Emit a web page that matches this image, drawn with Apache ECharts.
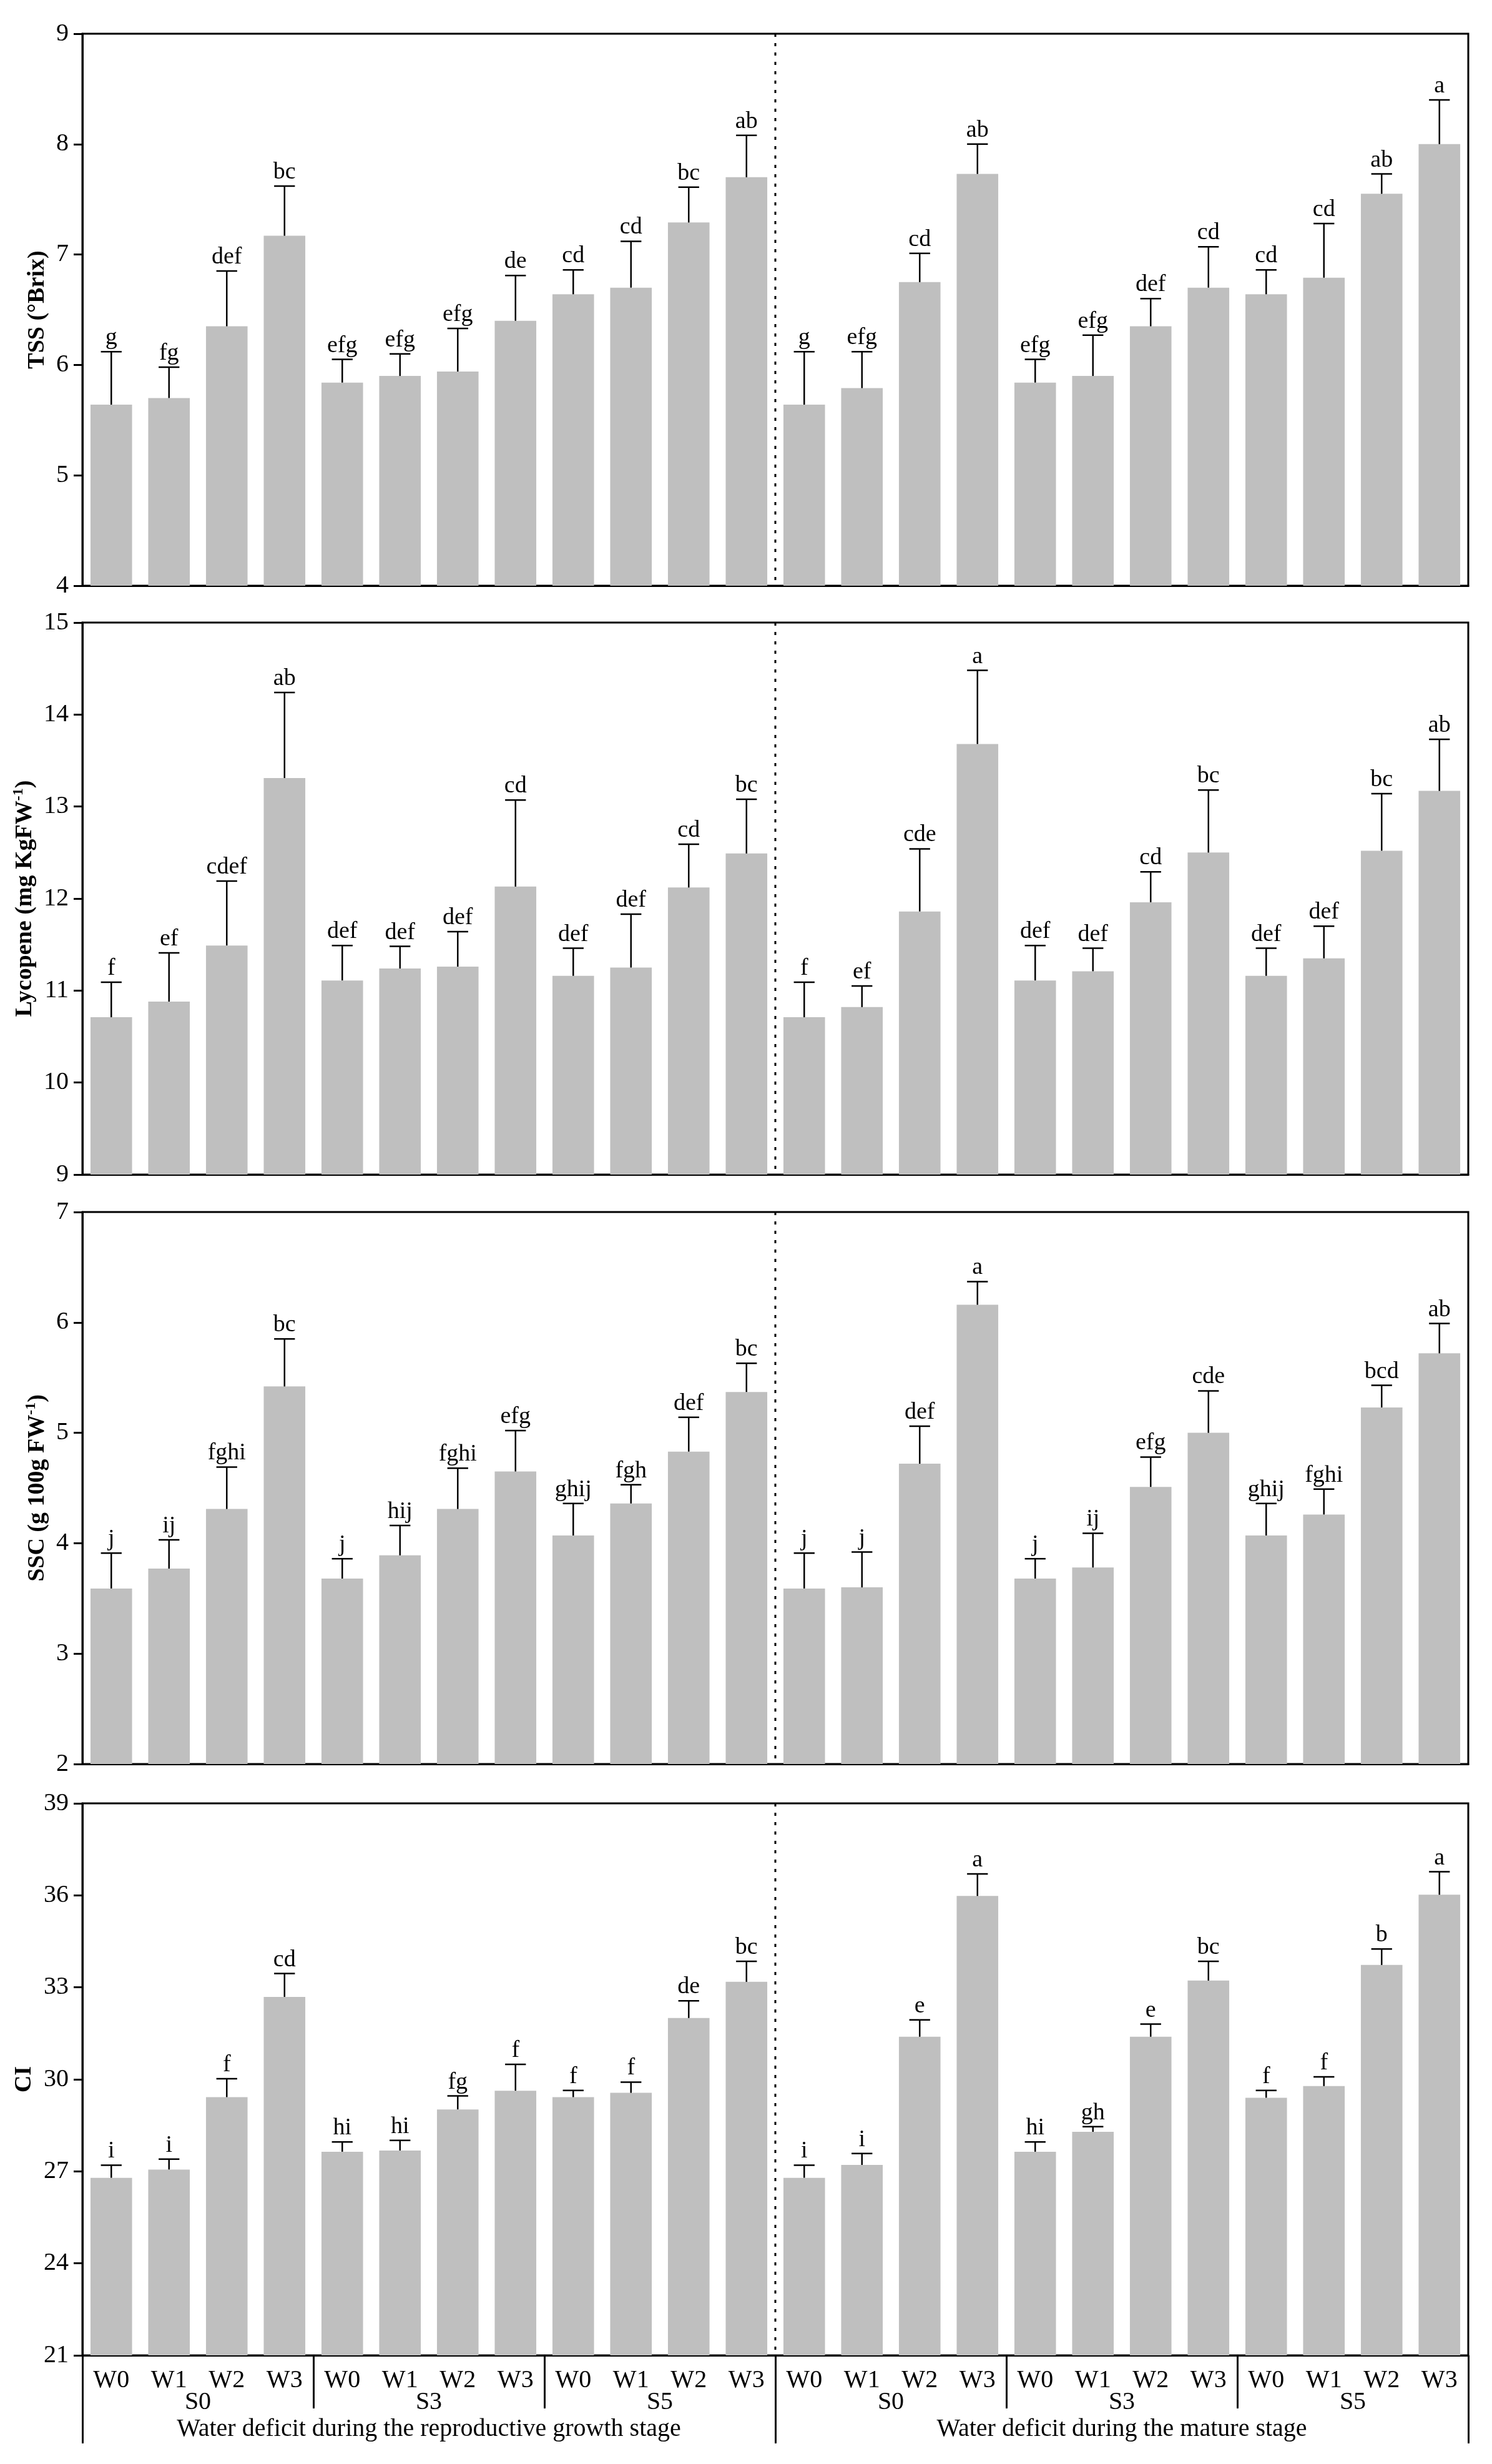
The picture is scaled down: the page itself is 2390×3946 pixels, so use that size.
<!DOCTYPE html>
<html>
<head>
<meta charset="utf-8">
<script src="https://cdn.jsdelivr.net/npm/echarts@6/dist/echarts.min.js"></script>
<style>
  html, body { margin: 0; padding: 0; background: #fff; }
  #chart { width: 2390px; height: 3946px; }
</style>
</head>
<body>
<div id="chart"></div>
<script>
const categories = ['W0', 'W1', 'W2', 'W3', 'W0', 'W1', 'W2', 'W3', 'W0', 'W1', 'W2', 'W3',
  'W0', 'W1', 'W2', 'W3', 'W0', 'W1', 'W2', 'W3', 'W0', 'W1', 'W2', 'W3'];
const groupLabels = ['S0', 'S3', 'S5', 'S0', 'S3', 'S5'];
const stageLabels = ['Water deficit during the reproductive growth stage', 'Water deficit during the mature stage'];

// TSS (°Brix)
const tssMean = [5.64, 5.70, 6.35, 7.17, 5.84, 5.90, 5.94, 6.40, 6.64, 6.70, 7.29, 7.70,
  5.64, 5.79, 6.75, 7.73, 5.84, 5.90, 6.35, 6.70, 6.64, 6.79, 7.55, 8.00];
const tssErr = [0.48, 0.28, 0.50, 0.45, 0.21, 0.20, 0.39, 0.41, 0.22, 0.42, 0.32, 0.38,
  0.48, 0.33, 0.26, 0.27, 0.21, 0.37, 0.25, 0.37, 0.22, 0.49, 0.18, 0.40];
const tssLetters = ['g', 'fg', 'def', 'bc', 'efg', 'efg', 'efg', 'de', 'cd', 'cd', 'bc', 'ab',
  'g', 'efg', 'cd', 'ab', 'efg', 'efg', 'def', 'cd', 'cd', 'cd', 'ab', 'a'];

// Lycopene
const lycMean = [10.71, 10.88, 11.49, 13.31, 11.11, 11.24, 11.26, 12.13, 11.16, 11.25, 12.12, 12.49,
  10.71, 10.82, 11.86, 13.68, 11.11, 11.21, 11.96, 12.50, 11.16, 11.35, 12.52, 13.17];
const lycErr = [0.38, 0.53, 0.70, 0.93, 0.38, 0.24, 0.38, 0.94, 0.30, 0.58, 0.47, 0.59,
  0.38, 0.23, 0.68, 0.80, 0.38, 0.25, 0.33, 0.68, 0.30, 0.35, 0.62, 0.56];
const lycLetters = ['f', 'ef', 'cdef', 'ab', 'def', 'def', 'def', 'cd', 'def', 'def', 'cd', 'bc',
  'f', 'ef', 'cde', 'a', 'def', 'def', 'cd', 'bc', 'def', 'def', 'bc', 'ab'];

// SSC
const sscMean = [3.59, 3.77, 4.31, 5.42, 3.68, 3.89, 4.31, 4.65, 4.07, 4.36, 4.83, 5.37,
  3.59, 3.60, 4.72, 6.16, 3.68, 3.78, 4.51, 5.00, 4.07, 4.26, 5.23, 5.72];
const sscErr = [0.32, 0.26, 0.38, 0.43, 0.18, 0.27, 0.37, 0.37, 0.29, 0.17, 0.31, 0.26,
  0.32, 0.32, 0.34, 0.21, 0.18, 0.31, 0.27, 0.38, 0.29, 0.23, 0.20, 0.27];
const sscLetters = ['j', 'ij', 'fghi', 'bc', 'j', 'hij', 'fghi', 'efg', 'ghij', 'fgh', 'def', 'bc',
  'j', 'j', 'def', 'a', 'j', 'ij', 'efg', 'cde', 'ghij', 'fghi', 'bcd', 'ab'];

// CI
const ciMean = [26.79, 27.06, 29.42, 32.69, 27.64, 27.68, 29.02, 29.63, 29.42, 29.56, 32.00, 33.18,
  26.79, 27.21, 31.39, 35.98, 27.64, 28.29, 31.39, 33.22, 29.40, 29.78, 33.73, 36.02];
const ciErr = [0.41, 0.34, 0.60, 0.76, 0.32, 0.33, 0.44, 0.86, 0.22, 0.35, 0.56, 0.67,
  0.41, 0.37, 0.55, 0.72, 0.32, 0.17, 0.41, 0.63, 0.24, 0.30, 0.52, 0.75];
const ciLetters = ['i', 'i', 'f', 'cd', 'hi', 'hi', 'fg', 'f', 'f', 'f', 'de', 'bc',
  'i', 'i', 'e', 'a', 'hi', 'gh', 'e', 'bc', 'f', 'f', 'b', 'a'];

const FONT = '"Times New Roman", "Liberation Serif", serif';
const BLACK = '#000';

const panels = [
  { name: 'TSS (°Brix)', min: 4, max: 9, interval: 1, mean: tssMean, err: tssErr, letters: tssLetters, gap: 52 },
  { name: '{n|Lycopene (mg KgFW}{s|-1}{n|)}', min: 9, max: 15, interval: 1, mean: lycMean, err: lycErr, letters: lycLetters, gap: 66 },
  { name: '{n|SSC (g 100g FW}{s|-1}{n|)}', min: 2, max: 7, interval: 1, mean: sscMean, err: sscErr, letters: sscLetters, gap: 50 },
  { name: 'CI', min: 21, max: 39, interval: 3, mean: ciMean, err: ciErr, letters: ciLetters, gap: 74 }
];
const tops = [54, 997, 1941, 2888];
const panelHeight = 884;

function errorRenderer(letters) {
  return function (params, api) {
    const x = api.value(0), m = api.value(1), e = api.value(2);
    const base = api.coord([x, m]);
    const top = api.coord([x, m + e]);
    const half = api.size([1, 0])[0] * 0.18;
    const line = { stroke: BLACK, lineWidth: 2.5 };
    return {
      type: 'group',
      children: [
        { type: 'line', shape: { x1: base[0], y1: base[1], x2: top[0], y2: top[1] }, style: line },
        { type: 'line', shape: { x1: top[0] - half, y1: top[1], x2: top[0] + half, y2: top[1] }, style: line },
        {
          type: 'text', x: top[0], y: top[1] - 3,
          style: { text: letters[params.dataIndex], fill: BLACK, font: '38px ' + FONT, align: 'center', verticalAlign: 'bottom' }
        }
      ]
    };
  };
}

// dotted line between the two halves of every panel
const half = categories.length / 2;
function dividerRenderer(params, api) {
  const a = api.coord([half - 1, api.value(1)]);
  const b = api.coord([half, api.value(1)]);
  const x = (a[0] + b[0]) / 2;
  const cs = params.coordSys;
  return {
    type: 'line',
    shape: { x1: x, y1: cs.y, x2: x, y2: cs.y + cs.height },
    style: { stroke: BLACK, lineWidth: 3, lineDash: [5, 10] }
  };
}

const grid = [], xAxis = [], yAxis = [], series = [];

panels.forEach(function (p, i) {
  grid.push({
    left: 132, right: 38, top: tops[i], height: panelHeight,
    show: true, borderColor: BLACK, borderWidth: 3
  });
  xAxis.push({
    type: 'category', gridIndex: i, data: categories,
    axisLine: { lineStyle: { color: BLACK, width: 3 } },
    axisTick: { alignWithLabel: true, interval: 0, length: 16, lineStyle: { color: BLACK, width: 3 } },
    axisLabel: { show: i === 3, interval: 0, margin: 20, color: BLACK, fontFamily: FONT, fontSize: 40 }
  });
  yAxis.push({
    type: 'value', gridIndex: i, min: p.min, max: p.max, interval: p.interval,
    name: p.name, nameLocation: 'middle', nameGap: p.gap,
    nameTextStyle: {
      color: BLACK, fontFamily: FONT, fontWeight: 'bold', fontSize: 38,
      rich: {
        n: { color: BLACK, fontFamily: FONT, fontWeight: 'bold', fontSize: 38, lineHeight: 44 },
        s: { color: BLACK, fontFamily: FONT, fontWeight: 'bold', fontSize: 24, verticalAlign: 'top', lineHeight: 44 }
      }
    },
    splitLine: { show: false },
    axisLine: { show: true, lineStyle: { color: BLACK, width: 3 } },
    axisTick: { show: true, length: 14, lineStyle: { color: BLACK, width: 3 } },
    axisLabel: { margin: 22, color: BLACK, fontFamily: FONT, fontSize: 40 }
  });
  series.push({
    type: 'bar', xAxisIndex: i, yAxisIndex: i, data: p.mean,
    barWidth: '72%', itemStyle: { color: '#bfbfbf' }, z: 2
  });
  series.push({
    type: 'custom', xAxisIndex: i, yAxisIndex: i,
    data: p.mean.map(function (m, k) { return [k, m, p.err[k]]; }),
    encode: { x: 0, y: 1 },
    renderItem: errorRenderer(p.letters), z: 3
  });
  series.push({
    type: 'custom', xAxisIndex: i, yAxisIndex: i,
    data: [[half - 1, p.min]], encode: { x: 0, y: 1 },
    renderItem: dividerRenderer, z: 4
  });
});

// S0 / S3 / S5 groups under the bottom panel
xAxis.push({
  type: 'category', gridIndex: 3, position: 'bottom', data: groupLabels,
  axisLine: { show: false },
  axisTick: { show: true, interval: 0, length: 85, lineStyle: { color: BLACK, width: 3 } },
  axisLabel: { interval: 0, margin: 55, color: BLACK, fontFamily: FONT, fontSize: 40 }
});
// stage captions
xAxis.push({
  type: 'category', gridIndex: 3, position: 'bottom', data: stageLabels,
  axisLine: { show: false },
  axisTick: { show: true, interval: 0, length: 141, lineStyle: { color: BLACK, width: 3 } },
  axisLabel: { interval: 0, margin: 98, color: BLACK, fontFamily: FONT, fontSize: 40 }
});

const chart = echarts.init(document.getElementById('chart'));
chart.setOption({
  animation: false,
  backgroundColor: '#fff',
  grid: grid,
  xAxis: xAxis,
  yAxis: yAxis,
  series: series
});
</script>
</body>
</html>
